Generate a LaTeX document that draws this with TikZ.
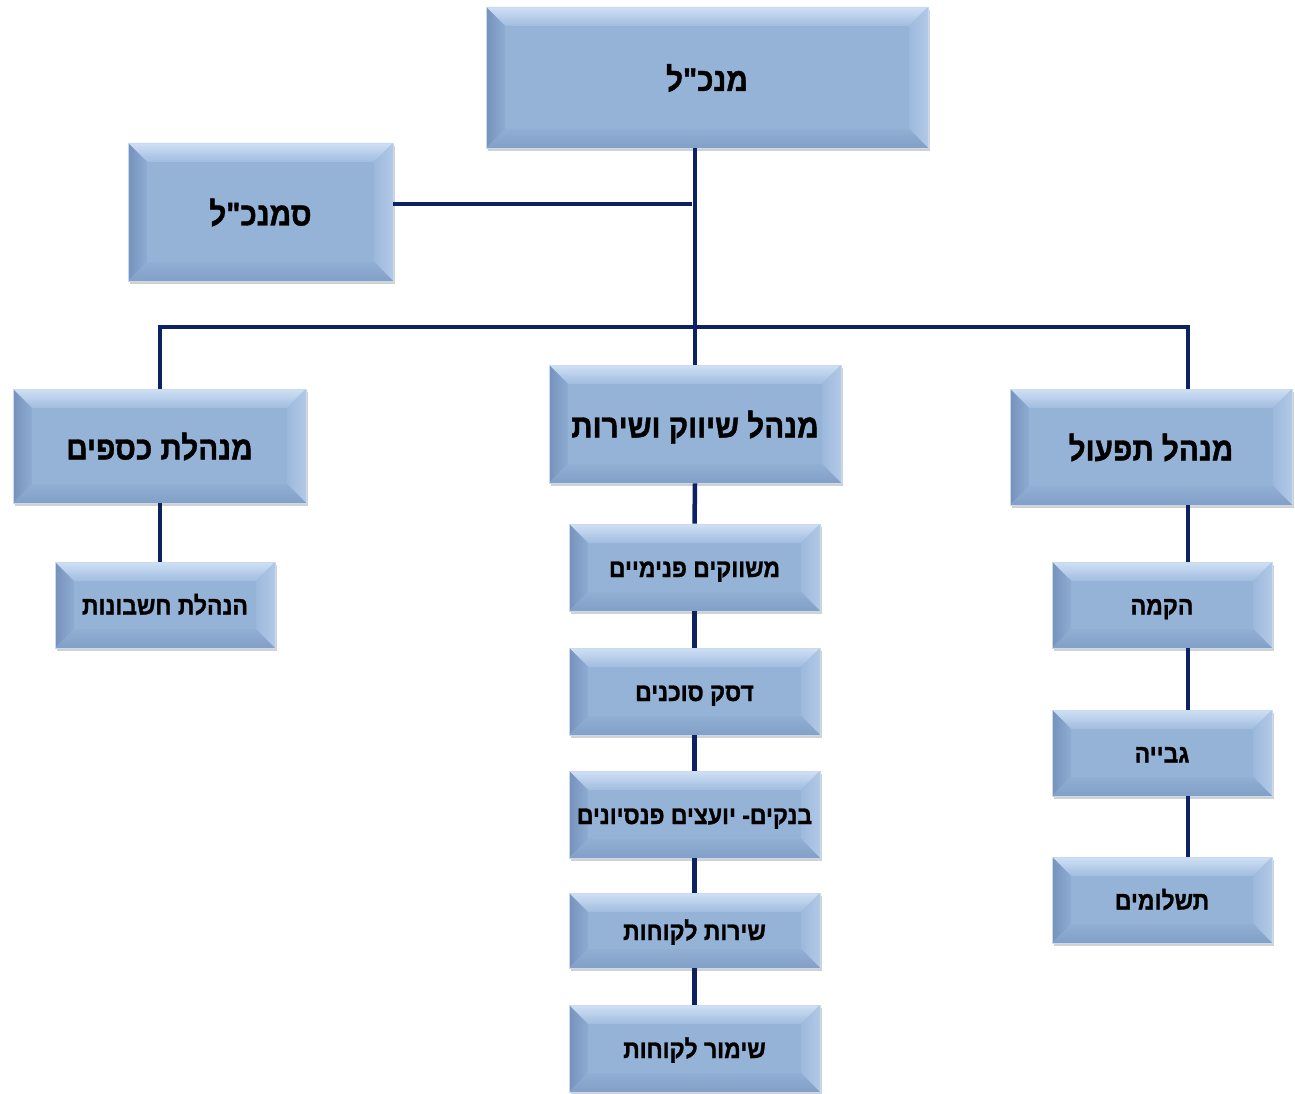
\documentclass[tikz,border=0pt]{standalone}
\usepackage{fontspec}
\usetikzlibrary{shadows}
\TeXXeTstate=1
\newfontfamily\heb[Script=Hebrew, FakeStretch=0.9, FakeBold=1.2]{Liberation Sans}
\definecolor{basec}{RGB}{149,179,215}
\definecolor{topc1}{RGB}{208,224,245}
\definecolor{topc2}{RGB}{160,188,223}
\definecolor{leftc1}{RGB}{118,146,188}
\definecolor{leftc2}{RGB}{142,172,210}
\definecolor{rightc1}{RGB}{156,185,220}
\definecolor{rightc2}{RGB}{178,201,231}
\definecolor{botc1}{RGB}{145,174,211}
\definecolor{botc2}{RGB}{130,159,199}
\definecolor{edgec}{RGB}{200,218,240}
\definecolor{linec}{RGB}{12,34,98}
\newcommand{\bevsz}{19pt}
\tikzset{
  bbox/.style={rectangle, inner sep=0pt, fill=basec, draw=edgec, line width=0.6pt,
    drop shadow={shadow xshift=1.5pt, shadow yshift=-3pt, fill=black!45, opacity=0.4},
    text=black, text depth=0pt,
    path picture={
      \coordinate (NW) at (path picture bounding box.north west);
      \coordinate (NE) at (path picture bounding box.north east);
      \coordinate (SW) at (path picture bounding box.south west);
      \coordinate (SE) at (path picture bounding box.south east);
      \coordinate (iNW) at ([xshift=\bevsz,yshift=-\bevsz]NW);
      \coordinate (iNE) at ([xshift=-\bevsz,yshift=-\bevsz]NE);
      \coordinate (iSW) at ([xshift=\bevsz,yshift=\bevsz]SW);
      \coordinate (iSE) at ([xshift=-\bevsz,yshift=\bevsz]SE);
      \shade[top color=topc1, bottom color=topc2] (NW) -- (NE) -- (iNE) -- (iNW) -- cycle;
      \shade[left color=leftc1, right color=leftc2] (NW) -- (iNW) -- (iSW) -- (SW) -- cycle;
      \shade[left color=rightc1, right color=rightc2] (NE) -- (SE) -- (iSE) -- (iNE) -- cycle;
      \shade[top color=botc1, bottom color=botc2] (SW) -- (iSW) -- (iSE) -- (SE) -- cycle;
    }},
  bigbox/.style={bbox, text height=27pt, font=\heb\bfseries\fontsize{33}{38}\selectfont},
  topbox/.style={bbox, text height=27pt, font=\heb\bfseries\fontsize{33}{38}\selectfont},
  smallbox/.style={bbox, text height=19pt, font=\heb\bfseries\fontsize{25.5}{30}\selectfont},
  conn/.style={draw=linec, line width=4.5pt}
}
\begin{document}
\begin{tikzpicture}[x=1pt,y=1pt]
\useasboundingbox (0,0) rectangle (1295,-1094);
% top level
\node[topbox, minimum width=442pt, minimum height=141pt] (t) at (707,-77.5) {\beginR מנכ"ל\endR};
\node[topbox, minimum width=265pt, minimum height=138pt] (d) at (260.5,-212) {\beginR סמנכ"ל\endR};
% second level
\node[bigbox, minimum width=293pt, minimum height=114pt] (l) at (159.5,-446) {\beginR מנהלת כספים\endR};
\node[bigbox, minimum width=292pt, minimum height=118pt] (m) at (695,-424) {\beginR מנהל שיווק ושירות\endR};
\node[bigbox, minimum width=282pt, minimum height=116pt] (r) at (1151,-447) {\beginR מנהל תפעול\endR};
% left child
\node[smallbox, minimum width=220pt, minimum height=86pt] (l1) at (165,-605) {\beginR הנהלת חשבונות\endR};
% middle children
\node[smallbox, minimum width=251pt, minimum height=87pt] (m1) at (694.5,-567.5) {\beginR משווקים פנימיים\endR};
\node[smallbox, minimum width=251pt, minimum height=87pt] (m2) at (694.5,-691.5) {\beginR דסק סוכנים\endR};
\node[smallbox, minimum width=251pt, minimum height=87pt] (m3) at (694.5,-814.5) {\beginR בנקים- יועצים פנסיונים\endR};
\node[smallbox, minimum width=251pt, minimum height=75pt] (m4) at (694.5,-930.5) {\beginR שירות לקוחות\endR};
\node[smallbox, minimum width=251pt, minimum height=87pt] (m5) at (694.5,-1048.5) {\beginR שימור לקוחות\endR};
% right children
\node[smallbox, minimum width=220pt, minimum height=86pt] (r1) at (1162,-605) {\beginR הקמה\endR};
\node[smallbox, minimum width=220pt, minimum height=86pt] (r2) at (1162,-753) {\beginR גבייה\endR};
\node[smallbox, minimum width=220pt, minimum height=86pt] (r3) at (1162,-900) {\beginR תשלומים\endR};
% junction coordinates
\coordinate (dj) at (692,-204);
\coordinate (busL) at (160,-327);
\coordinate (busR) at (1188,-327);
% connectors
\draw[conn] (t.south -| m.north) -- (m.north);
\draw[conn] (d.east |- dj) -- (dj);
\draw[conn] (l.north -| busL) -- (busL) -- (busR) -- (r.north -| busR);
\draw[conn] (l.south -| busL) -- (l1.north -| busL);
\draw[conn] (r.south -| busR) -- (r1.north -| busR);
\draw[conn] (r1.south -| busR) -- (r2.north -| busR);
\draw[conn] (r2.south -| busR) -- (r3.north -| busR);
\draw[conn] (m.south) -- (m1.north);
\draw[conn] (m1.south) -- (m2.north);
\draw[conn] (m2.south) -- (m3.north);
\draw[conn] (m3.south) -- (m4.north);
\draw[conn] (m4.south) -- (m5.north);
\end{tikzpicture}
\end{document}
